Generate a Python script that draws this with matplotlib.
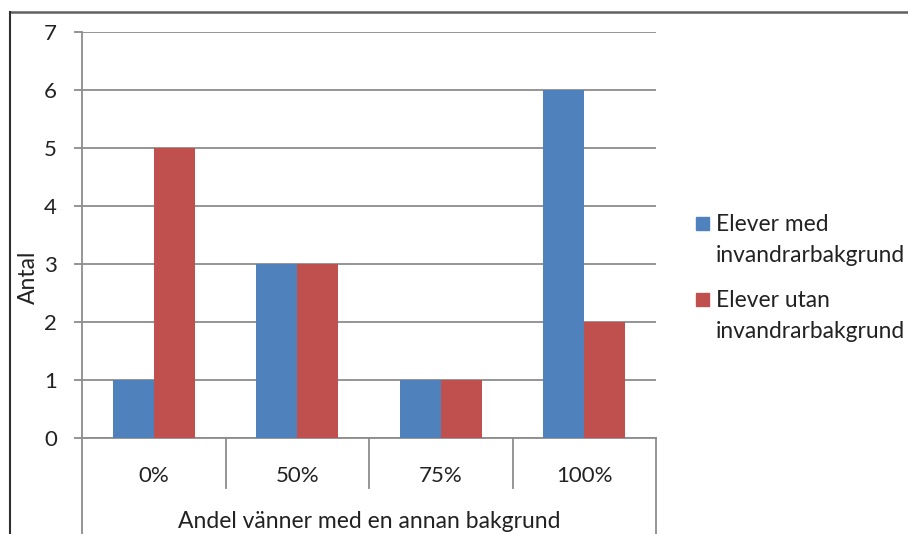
import matplotlib.pyplot as plt
import numpy as np
from matplotlib.lines import Line2D
from matplotlib.patches import Rectangle
import matplotlib.transforms as mtransforms

plt.rcParams['font.family'] = ['Lato', 'DejaVu Sans']

# Data
kategorier = ['0%', '50%', '75%', '100%']
med_bakgrund = [1, 3, 1, 6]
utan_bakgrund = [5, 3, 1, 2]
serie_namn = ['Elever med\ninvandrarbakgrund', 'Elever utan\ninvandrarbakgrund']
farger = ['#4F81BD', '#C0504D']
yticks = [0, 1, 2, 3, 4, 5, 6, 7]

W, H = 908, 534
fs = 16
txt = '#222222'
fig = plt.figure(figsize=(W / 100, H / 100), dpi=100)
# plot area in pixels: x 82..656, y 32..438
ax = fig.add_axes([82 / W, 1 - 438 / H, (656 - 82) / W, (438 - 32) / H])

x = np.arange(len(kategorier))
bw = 0.286
ax.bar(x - bw / 2, med_bakgrund, bw, color=farger[0], zorder=3)
ax.bar(x + bw / 2, utan_bakgrund, bw, color=farger[1], zorder=3)

ax.set_xlim(-0.5, len(kategorier) - 0.5)
ax.set_ylim(0, 7)
ax.set_yticks(yticks)
ax.yaxis.grid(True, color='#8c8c8c', linewidth=1.3, zorder=0)
ax.tick_params(axis='y', direction='out', length=6, width=1.3, color='#8c8c8c',
               pad=12, labelsize=fs, labelcolor=txt)
ax.set_xticks(x)
ax.set_xticklabels(kategorier)
ax.tick_params(axis='x', length=0, pad=20, labelsize=fs, labelcolor=txt)

for s in ['top', 'right']:
    ax.spines[s].set_visible(False)
for s in ['left', 'bottom']:
    ax.spines[s].set_color('#8c8c8c')
    ax.spines[s].set_linewidth(1.3)

# category separators below the axis, and the outer group box
trans = mtransforms.blended_transform_factory(ax.transData, ax.transAxes)
for b in np.arange(0.5, len(kategorier) - 1, 1.0):
    ax.plot([b, b], [0, -50 / 406], transform=trans, color='#8c8c8c', lw=1.3, clip_on=False)
for b in [-0.5, len(kategorier) - 0.5]:
    ax.plot([b, b], [0, -0.3], transform=trans, color='#8c8c8c', lw=1.3, clip_on=False)

ax.set_xlabel('Andel vänner med en annan bakgrund', fontsize=fs + 0.5, color=txt)
ax.xaxis.set_label_coords(0.5, -(521 - 438) / 406)
ax.xaxis.label.set_va('center')
ax.set_ylabel('Antal', fontsize=fs + 0.5, color=txt)
ax.yaxis.set_label_coords(-(82 - 28) / 574, (438 - 277) / 406)
ax.yaxis.label.set_va('center')

# legend
for i, namn in enumerate(serie_namn):
    top = 217 + i * 76
    fig.add_artist(Rectangle((696 / W, 1 - (top + 13) / H), 13 / W, 13 / H,
                             transform=fig.transFigure, color=farger[i]))
    fig.text(716 / W, 1 - (top - 3) / H, namn, fontsize=fs + 0.4, color=txt,
             va='top', ha='left', linespacing=1.6,
             transform=fig.transFigure)

# outer frame lines (top and left)
fig.add_artist(Line2D([9.5 / W, 1], [1 - 11.5 / H, 1 - 11.5 / H], color='#606060', lw=1.8))
fig.add_artist(Line2D([9.5 / W, 9.5 / W], [0, 1 - 11.5 / H], color='#303030', lw=1.5))

fig.savefig('out.png', dpi=100)
